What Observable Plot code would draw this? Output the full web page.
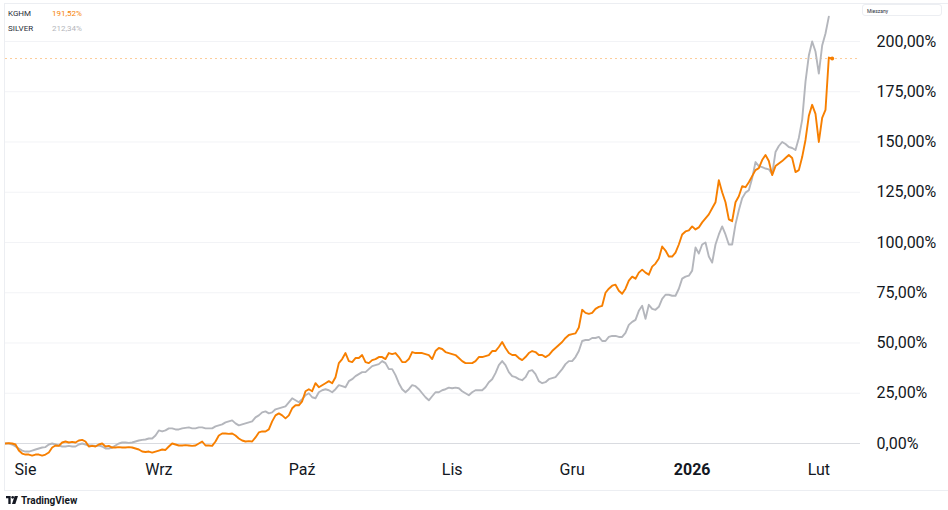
<!DOCTYPE html>
<html>
<head>
<meta charset="utf-8">
<script src="https://cdn.jsdelivr.net/npm/d3@7"></script>
<script src="https://cdn.jsdelivr.net/npm/@observablehq/plot@0.6"></script>
<style>
  body { margin: 0; background: #fff; font-family: Roboto, "Noto Sans", sans-serif; }
  #wrap { position: relative; width: 948px; height: 490px; }
  #border { position: absolute; left: 4px; top: 3px; width: 943px; height: 486px; border: 1px solid #eceef2; border-right: none; pointer-events: none; }
  #legend { position: absolute; left: 8px; top: 6px; font-size: 8px; line-height: 15px; color: #2a2e39; }
  #legend .row { position: relative; height: 15px; }
  #legend .val { position: absolute; left: 44px; top: 0; }
  #mode { position: absolute; left: 862px; top: 4px; width: 80px; height: 12px; border: 1px solid #eceef2; border-radius: 3px; font-size: 5px; line-height: 12px; padding-left: 4px; color: #2a2e39; box-sizing: border-box; }
  #caption { height: 20px; display: flex; align-items: center; padding-left: 6px; font-size: 10px; font-weight: bold; color: #131722; }
  #caption svg { margin-right: 3px; }
</style>
</head>
<body>
<div id="wrap">
  <div id="chart"></div>
  <div id="border"></div>
  <div id="legend"></div>
  <div id="mode">Mieszany</div>
</div>
<div id="caption"><svg width="12" height="8" viewBox="0 0 36 24"><path d="M0 0h14v24h-7v-17h-7z M18 24l8-24h10l-8 24z" fill="#131722"/><circle cx="20" cy="4" r="4" fill="#131722"/></svg>TradingView</div>
<script>
// Series names and colours
const seriesNames = ["KGHM", "SILVER"];
const seriesColors = ["#f77f00", "#b4b6bc"];
const lastLabels = ["191,52%", "212,34%"];

// KGHM percent change, one value per bar (bar index = position on the time axis)
const kghm = [
  0, 0.2, 0, -0.5, -3.5, -5, -5.5, -5.5, -6, -5.5,
  -5.5, -6, -5.5, -4.5, -2, -1, -1.2, 0.5, 1, 0.5,
  0.8, 0.5, 1.5, 1.8, 1, -1.5, -1.2, -1.5, -0.5, 0,
  -1.5, -1.2, -2, -2, -1.8, -2, -2, -1.8, -2, -2.5,
  -3, -4, -4.2, -4, -4.5, -4, -3.5, -3, -3.2, -1.5,
  0, -0.5, -1, -1, -0.8, -1, -1.2, -1, 0, 1,
  -1, -1, -1.2, 1, 4, 5, 5, 4.8, 5, 4,
  2.5, 1.5, 1, 1.2, 1, 3, 5.5, 6, 6, 7,
  11, 14, 15, 14, 12.5, 14, 17.5, 19, 19, 21,
  26, 27, 26, 30, 28, 29, 30, 31, 30, 33,
  40, 42, 45, 41, 40.5, 42.5, 42.5, 44, 40.5, 40,
  41.5, 42, 43, 43, 42, 45, 44.5, 45, 43, 40.5,
  40.5, 42, 45.5, 45, 45, 45, 44.5, 44, 42, 46,
  47.5, 47, 45.5, 45, 44.5, 44, 42.5, 41, 40, 40,
  40, 41, 43, 43, 43.5, 44, 46, 46, 48, 50.5,
  47.5, 45, 44, 44, 42.5, 41.5, 43, 45, 46, 45.5,
  44, 44, 43, 44, 46, 47.5, 49, 50.5, 52.5, 54,
  54.4, 54.8, 57.7, 66.5, 65, 64.5, 65, 67, 68, 68.5,
  75, 77, 78.5, 79, 76, 74.5, 77, 81, 83, 82,
  85, 86.5, 85, 84, 88, 89.5, 92, 98, 96, 93,
  93, 95, 99, 104, 105.5, 106, 108, 106.5, 107.5, 110,
  112, 114, 117, 120, 131, 125, 120, 111.5, 110.6, 120,
  123, 128, 127.5, 130, 133, 136, 137, 141, 143.5, 140.5,
  133.5, 138, 139.3, 140.5, 142, 143.5, 142, 135, 136, 142.5,
  151, 163, 168.5, 164, 150, 162, 166, 192, 191.52
];

// SILVER percent change, same bar index
const silver = [
  0, 0, -0.5, -1.5, -2.5, -3.5, -4, -4, -3.5, -3,
  -2.5, -2, -1.8, -0.5, 0, -0.5, -1, -1.5, -1.5, -1.2,
  -1.5, -1.5, -0.5, 0, -0.5, -1, -1, -1.2, -1, -1.5,
  -2.5, -2.5, -2, -1, 0, 0.5, 0.5, 0.3, 0.5, 1,
  1.5, 1.8, 2, 2.5, 2.5, 4, 6.5, 6, 6.5, 7.5,
  7.5, 7, 7, 7.5, 7.8, 8, 7.5, 7.5, 8, 8,
  7.5, 7.5, 7.5, 8.5, 9, 9.5, 10.5, 11, 11.5, 10,
  9, 9.5, 10, 10.5, 11, 13, 14, 15.5, 16, 15,
  15.5, 17, 17.5, 18, 18.5, 20.5, 22.5, 21.5, 20.5, 22,
  24, 25, 23, 22.5, 25.5, 26.5, 27, 26.5, 25.5, 27,
  29, 28.5, 28, 31, 32, 33.5, 34.5, 35.5, 35.5, 37,
  38.5, 39, 39.5, 41, 40, 37, 37, 34, 30, 27,
  25.5, 27, 29, 28.5, 27, 25, 23, 21.5, 23.5, 25.5,
  25.5, 26.5, 27, 27.8, 27.5, 27.8, 27.5, 26, 25, 24,
  25.5, 26.5, 26.5, 26.5, 28, 30.5, 32, 35, 39, 41,
  39, 35.5, 33.5, 33, 32, 31.5, 33, 36, 36.5, 34.5,
  31, 30, 30.5, 32, 32.5, 33, 35, 37, 39.5, 41,
  41, 43, 46, 51, 51.5, 51.5, 52.5, 52.5, 53, 51,
  51, 53, 53.5, 53.5, 53, 53, 55, 59, 60.5, 61.5,
  66, 68.5, 62, 69, 67, 66.5, 68, 72, 74, 74,
  73.5, 73.5, 77, 82, 83, 83.5, 86, 97.5, 94.5, 99,
  100, 93, 90, 99, 104, 108, 104, 99, 99, 109,
  116, 122, 124.8, 126, 132, 140, 138, 137.5, 136.8, 136.4,
  134, 145, 148, 150, 149, 147.5, 147, 146, 152, 161,
  180, 193, 200, 195, 184, 198, 204, 212.34
];

// Axis ticks (bar index of month starts) and their labels
const xTicks = [6, 46, 89, 134, 170, 206, 244];
const xTickLabels = ["Sie", "Wrz", "Paź", "Lis", "Gru", "2026", "Lut"];
const yTicks = [0, 25, 50, 75, 100, 125, 150, 175, 200];

const fmtPct = d => d.toFixed(2).replace(".", ",") + "%";

const chart = Plot.plot({
  width: 948,
  height: 490,
  marginLeft: 5,
  marginRight: 88,
  marginTop: 5,
  marginBottom: 35,
  x: { domain: [0, 256.5], axis: null },
  y: { domain: [-5.97, 217.9], axis: null },
  style: { fontFamily: "Roboto, 'Noto Sans', sans-serif", fontSize: "16px", color: "#131722", background: "transparent", overflow: "visible" },
  marks: [
    Plot.ruleY(yTicks.filter(d => d !== 0), { stroke: "#f2f3f6", strokeWidth: 1 }),
    Plot.ruleY([0], { stroke: "#d9dbe0", strokeWidth: 1.2 }),
    Plot.ruleY([kghm[kghm.length - 1]], { stroke: seriesColors[0], strokeWidth: 1, strokeDasharray: "2,3", strokeOpacity: 0.4 }),
    Plot.lineY(silver, { stroke: seriesColors[1], strokeWidth: 1.9 }),
    Plot.lineY(kghm, { stroke: seriesColors[0], strokeWidth: 1.9 }),
    Plot.dot([kghm.length - 1], { x: d => d, y: d => kghm[d], r: 2, fill: seriesColors[0] }),
    Plot.axisX({ ticks: xTicks, tickFormat: d => xTickLabels[xTicks.indexOf(d)], tickSize: 0, tickPadding: 8 }),
    Plot.axisY({ anchor: "right", ticks: yTicks, tickFormat: fmtPct, tickSize: 0, tickPadding: 16 })
  ]
});

d3.select(chart).selectAll("text").filter(function() { return this.textContent === "2026"; }).attr("font-weight", "bold");
document.getElementById("chart").appendChild(chart);

const legend = d3.select("#legend");
seriesNames.forEach((n, i) => {
  const row = legend.append("div").attr("class", "row");
  row.append("span").text(n);
  row.append("span").attr("class", "val").style("color", seriesColors[i]).text(lastLabels[i]);
});
</script>
</body>
</html>
